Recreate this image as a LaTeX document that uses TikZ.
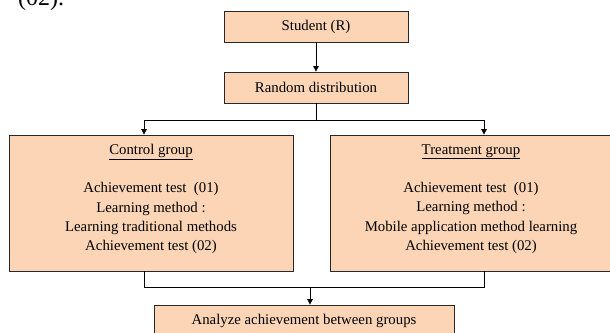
\documentclass[tikz,border=0pt]{standalone}
\usepackage{fontspec}
\setmainfont{Liberation Serif}
\usetikzlibrary{arrows.meta}
\definecolor{peach}{RGB}{251,213,181}
\definecolor{edge}{RGB}{40,40,40}
\tikzset{
  box/.style={draw=edge, line width=0.8pt, fill=peach, inner sep=0pt},
  txt/.style={align=center, inner sep=0pt, font=\fontsize{14.8}{19.3}\selectfont},
  conn/.style={draw=black, line width=0.8pt},
  arr/.style={conn, -{Triangle[width=5.5pt,length=5.5pt]}}
}
\begin{document}
\begin{tikzpicture}[x=1pt,y=-1pt]
\useasboundingbox (0,0) rectangle (610,332);
\clip (0,0) rectangle (610,332);
% cut-off text at top
\node[anchor=base west, inner sep=0pt, font=\fontsize{24}{28}\selectfont] (head) at (18,5.5) {(02).};
% boxes
\node[box, minimum width=184pt, minimum height=31pt] (student) at (316,26.5) {};
\node[txt] (studentt) at (316,26.5) {Student (R)};
\node[box, minimum width=184pt, minimum height=31pt] (random) at (316,87.5) {};
\node[txt] (randomt) at (316,87.5) {Random distribution};
\node[box, minimum width=284pt, minimum height=136pt] (control) at (151,203) {};
\node[txt] (controlt) at (151,199) {\underline{Control group}\\[19.3pt]Achievement test\ \ (01)\\Learning method :\\Learning traditional methods\\Achievement test (02)};
\node[box, minimum width=282pt, minimum height=136pt] (treatment) at (471,203) {};
\node[txt] (treatmentt) at (471,199) {\underline{Treatment group}\\[19.3pt]Achievement test\ \ (01)\\Learning method :\\Mobile application method learning\\Achievement test (02)};
\node[box, minimum width=300pt, minimum height=32pt] (analyze) at (304,321) {};
\node[txt] (analyzet) at (304,321) {Analyze achievement between groups};
% connectors
\coordinate (jt) at (316,120);
\coordinate (jb) at (310,287);
\draw[arr] (student.south) -- (random.north);
\draw[conn] (random.south) -- (jt);
\draw[arr] (jt) -| ([xshift=-7pt]control.north);
\draw[arr] (jt) -| ([xshift=13pt]treatment.north);
\draw[conn] ([xshift=-7pt]control.south) |- (jb);
\draw[conn] ([xshift=13pt]treatment.south) |- (jb);
\draw[arr] (jb) -- ([xshift=6pt]analyze.north);
\end{tikzpicture}
\end{document}
